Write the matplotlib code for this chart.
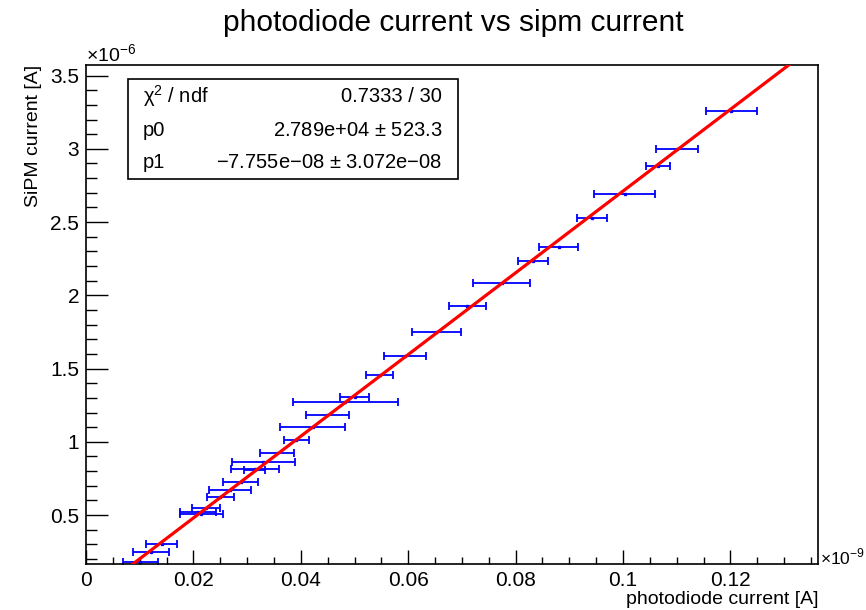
import numpy as np
import matplotlib
matplotlib.use("Agg")
import matplotlib.pyplot as plt
from matplotlib.ticker import MultipleLocator

plt.rcParams['font.family'] = ['Liberation Sans', 'DejaVu Sans']
plt.rcParams['mathtext.fontset'] = 'custom'
plt.rcParams['mathtext.rm'] = 'Liberation Sans'

# photodiode current (x1e-9 A), half-width of x error, SiPM current (x1e-6 A)
pd_current = [0.01010, 0.01216, 0.01411, 0.02150, 0.02088, 0.02231, 0.02498, 0.02676,
              0.02882, 0.03133, 0.03141, 0.03305, 0.03555, 0.03916, 0.04222, 0.04491,
              0.04829, 0.05001, 0.05467, 0.05946, 0.06525, 0.07103, 0.07740, 0.08331,
              0.08799, 0.09426, 0.10032, 0.10644, 0.11001, 0.12013]
pd_err = [0.00326, 0.00333, 0.00292, 0.00404, 0.00329, 0.00258, 0.00254, 0.00391,
          0.00326, 0.00195, 0.00444, 0.00578, 0.00315, 0.00232, 0.00606, 0.00398,
          0.00974, 0.00270, 0.00248, 0.00391, 0.00456, 0.00345, 0.00535, 0.00279,
          0.00357, 0.00276, 0.00565, 0.00221, 0.00386, 0.00472]
sipm_current = [0.181, 0.248, 0.304, 0.505, 0.518, 0.548, 0.623, 0.674,
                0.729, 0.806, 0.812, 0.865, 0.922, 1.015, 1.099, 1.184,
                1.271, 1.306, 1.455, 1.587, 1.748, 1.930, 2.085, 2.233,
                2.330, 2.526, 2.694, 2.881, 2.999, 3.258]

# fit result
p0 = 2.789e4
p1 = -7.755e-08

fig = plt.figure(figsize=(8.66, 6.10), dpi=100)
ax = fig.add_axes([86/866, 1-564/610, 732/866, 499/610])

x = np.array(pd_current)
y = np.array(sipm_current)
ax.errorbar(x, y, xerr=pd_err, fmt='none', ecolor='#0000ff', elinewidth=1.3,
            capsize=3, capthick=1.3, zorder=2)
ax.plot(x, y, ls='none', marker='s', ms=2, color='#0000ff', zorder=2)

xmin, xmax = 0, 0.1363
ymin, ymax = 0.166, 3.572
xl = np.linspace(xmin, xmax, 200)
yl = (p0 * xl * 1e-9 + p1) * 1e6
ax.plot(xl, yl, color='#ff0000', lw=2.3, zorder=3)

ax.xaxis.set_minor_locator(MultipleLocator(0.005))
ax.yaxis.set_minor_locator(MultipleLocator(0.1))
ax.set_xticks([0, 0.02, 0.04, 0.06, 0.08, 0.1, 0.12])
ax.set_xticklabels(['0', '0.02', '0.04', '0.06', '0.08', '0.1', '0.12'])
ax.set_yticks([0.5, 1, 1.5, 2, 2.5, 3, 3.5])
ax.set_yticklabels(['0.5', '1', '1.5', '2', '2.5', '3', '3.5'])
ax.set_xlim(xmin, xmax)
ax.set_ylim(ymin, ymax)

ax.tick_params(axis='x', which='major', direction='in', length=10, width=1, labelsize=15, pad=5)
ax.tick_params(axis='x', which='minor', direction='in', length=5, width=1)
ax.tick_params(axis='y', which='major', direction='in', length=16, width=1, labelsize=15, pad=5)
ax.tick_params(axis='y', which='minor', direction='in', length=8, width=1)
for s in ax.spines.values():
    s.set_linewidth(1.2)

ax.set_xlabel('photodiode current [A]', fontsize=14, loc='right', labelpad=1)
ax.set_ylabel('SiPM current [A]', fontsize=14, loc='top', labelpad=6)
fig.text(0.523, 0.963, 'photodiode current vs sipm current', fontsize=21.5,
         ha='center', va='center')

fig.text(86/866, 1-55/610, r'$\times10^{-6}$', fontsize=14, ha='left', va='center')
fig.text(820/866, 1-557/610, r'$\times10^{-9}$', fontsize=12.5, ha='left', va='center')

# stats box
bx0, bx1 = 128/866, 458/866
by0, by1 = 1-179/610, 1-79/610
box = plt.Rectangle((bx0, by0), bx1-bx0, by1-by0, transform=fig.transFigure,
                    facecolor='white', edgecolor='black', lw=1.2, zorder=5)
fig.add_artist(box)
rows = [('\u03c7$^{2}$ / ndf', '0.7333 / 30'),
        ('p0', '2.789e+04 $\\pm$ 523.3'),
        ('p1', '\u22127.755e\u221208 $\\pm$ 3.072e\u221208')]
row_y = [96, 130, 163]
for (lab, val), yy in zip(rows, row_y):
    fig.text(143/866, 1-yy/610, lab, fontsize=14.5, ha='left', va='center', zorder=6)
    fig.text(442/866, 1-yy/610, val, fontsize=14.5, ha='right', va='center', zorder=6)

fig.savefig('out.png', dpi=100)
